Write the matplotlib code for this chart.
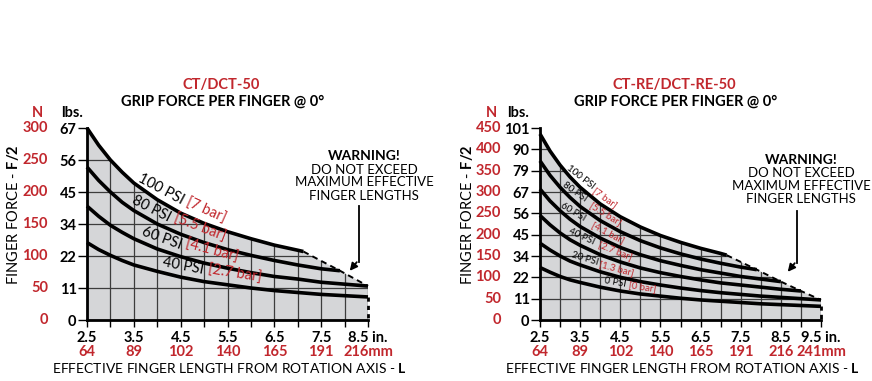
import numpy as np
import matplotlib
matplotlib.use('Agg')
import matplotlib.pyplot as plt
from matplotlib.patches import Polygon, FancyArrowPatch
from matplotlib.lines import Line2D

RED = '#c1272d'
FILL = '#d5d6d8'

plt.rcParams['font.family'] = ['Lato', 'DejaVu Sans']
plt.rcParams['mathtext.fontset'] = 'custom'
plt.rcParams['mathtext.rm'] = 'Lato'
plt.rcParams['mathtext.bf'] = 'Lato:bold'

# ---- left chart: CT/DCT-50 (force in N) ----
x100 = [2.5, 2.75, 3.0, 3.25, 3.5, 4.0, 4.5, 5.0, 5.5, 6.0, 6.5, 7.0, 7.12]
y100 = [300, 273, 250, 231, 214, 188, 167, 151, 138, 127, 117, 109, 107]
x80 = [2.5, 2.75, 3.0, 3.25, 3.5, 4.0, 4.5, 5.0, 5.5, 6.0, 6.5, 7.0, 7.5, 7.9]
y80 = [239, 218, 200, 184, 171, 150, 134, 121, 110, 101, 93, 86, 80, 77]
x60 = [2.5, 2.75, 3.0, 3.25, 3.5, 4.0, 4.5, 5.0, 5.5, 6.0, 6.5, 7.0, 7.5, 8.0, 8.5]
y60 = [178, 162, 148, 137, 127, 111, 99, 89, 81, 74, 68, 64, 59, 56, 53]
x40 = [2.5, 2.75, 3.0, 3.25, 3.5, 4.0, 4.5, 5.0, 5.5, 6.0, 6.5, 7.0, 7.5, 8.0, 8.5]
y40 = [121, 110, 101, 93, 86, 76, 67, 60, 55, 50, 46, 43, 40, 38, 36]

psi_left = ['100 PSI', '80 PSI', '60 PSI', '40 PSI']
bar_left = ['[7 bar]', '[5.5 bar]', '[4.1 bar]', '[2.7 bar]']
n_ticks_left = [0, 50, 100, 150, 200, 250, 300]
lbs_left = ['0', '11', '22', '34', '45', '56', '67']
in_left = ['2.5', '3.5', '4.5', '5.5', '6.5', '7.5', '8.5']
mm_left = ['64', '89', '102', '140', '165', '191', '216']

# ---- right chart: CT-RE/DCT-RE-50 ----
xr_a = [2.5, 2.75, 3.0, 3.25, 3.5, 4.0, 4.5, 5.0, 5.5, 6.0, 6.5, 7.0, 7.5, 8.0, 8.5, 9.0, 9.5]
x100r = [2.5, 2.75, 3.0, 3.25, 3.5, 4.0, 4.5, 5.0, 5.5, 6.0, 6.5, 7.0, 7.15]
y100r = [436, 396, 363, 335, 311, 272, 242, 218, 198, 182, 168, 156, 152]
x80r = [2.5, 2.75, 3.0, 3.25, 3.5, 4.0, 4.5, 5.0, 5.5, 6.0, 6.5, 7.0, 7.5, 7.9]
y80r = [373, 339, 311, 287, 266, 233, 207, 186, 169, 155, 143, 133, 124, 118]
x60r = xr_a[:15]
y60r = [307, 279, 256, 236, 219, 192, 170, 153, 139, 128, 118, 110, 102, 96, 90]
x40r = xr_a[:16]
y40r = [245, 223, 204, 188, 175, 153, 136, 122, 111, 102, 94, 87, 82, 77, 72, 68]
x20r = xr_a
y20r = [180, 164, 150, 138, 129, 113, 100, 90, 82, 75, 69, 64, 60, 56, 53, 50, 47]
x0r = xr_a
y0r = [123, 112, 102, 94, 88, 77, 68, 61, 56, 51, 47, 44, 41, 38, 36, 34, 32]

psi_right = ['100 PSI', '80 PSI', '60 PSI', '40 PSI', '20 PSI', '0 PSI']
bar_right = ['[7 bar]', '[5.5 bar]', '[4.1 bar]', '[2.7 bar]', '[1.3 bar]', '[0 bar]']
n_ticks_right = [0, 50, 100, 150, 200, 250, 300, 350, 400, 450]
lbs_right = ['0', '11', '22', '34', '45', '56', '67', '79', '90', '101']
in_right = ['2.5', '3.5', '4.5', '5.5', '6.5', '7.5', '8.5', '9.5']
mm_right = ['64', '89', '102', '140', '165', '191', '216', '241']

W, H = 872, 381


def fx(px):
    return px / W


def fy(py):
    return 1 - py / H


def draw_chart(ax, curves, xmax, ymax, n_ticks, lbs, in_lbls, mm_lbls,
               psi, bars, label_pos, label_size):
    xs_top, ys_top = curves[0]
    ends = [(c[0][-1], c[1][-1]) for c in curves]
    # limit line: end of top curve, then ends of shorter curves, up to xmax
    lim = [ends[0]]
    for e in ends[1:]:
        if e[0] > lim[-1][0] + 1e-6:
            lim.append(e)
    verts = list(zip(xs_top, ys_top)) + lim[1:] + [(xmax, 0), (2.5, 0)]
    poly = Polygon(verts, closed=True, facecolor=FILL, edgecolor='none', zorder=0.5)
    ax.add_patch(poly)

    ax.set_xlim(2.5, xmax)
    ax.set_ylim(0, ymax)
    ticks = list(np.arange(2.5, xmax + 0.01, 0.5))
    ax.set_xticks(ticks)
    lbl = []
    k = 0
    for t in ticks:
        if abs((t - 2.5) % 1.0) < 1e-6:
            lbl.append(in_lbls[k])
            k += 1
        else:
            lbl.append('')
    lbl[-1] = lbl[-1] + ' in.'
    ax.set_xticklabels(lbl, fontweight='bold', fontsize=10.5)
    ax.set_yticks(n_ticks)
    ax.set_yticklabels(lbs, fontweight='bold', fontsize=10.5)
    ax.tick_params(axis='x', length=5, width=1, pad=3)
    ax.tick_params(axis='y', length=6.5, width=1, pad=1)

    ax.grid(True, color='#3c3c3c', lw=0.9)
    for gl in ax.get_xgridlines() + ax.get_ygridlines():
        gl.set_clip_path(poly)

    for s in ['top', 'right']:
        ax.spines[s].set_visible(False)
    for s in ['left', 'bottom']:
        ax.spines[s].set_linewidth(2)
    ax.set_facecolor('none')

    for xs, ys in curves:
        ax.plot(xs, ys, color='black', lw=2.6, clip_on=False, zorder=3,
                solid_capstyle='butt')

    # dashed limit line through the curve ends
    ax.plot([p[0] for p in lim], [p[1] for p in lim], color='black', lw=1.4,
            ls=(0, (3, 2.2)), zorder=3, clip_on=False)
    low = min(c[1][-1] for c in curves)
    ax.plot([xmax, xmax], [low, 0], color='black', lw=2, ls=(0, (1.5, 1.5)),
            zorder=3, clip_on=False)

    for v in n_ticks:
        ax.annotate(str(v), xy=(0, v), xycoords=('axes fraction', 'data'),
                    xytext=(-39, 0), textcoords='offset pixels', ha='right',
                    va='center', color=RED, fontweight='bold', fontsize=10.5)
    mm_pos = [t for t in ticks if abs((t - 2.5) % 1.0) < 1e-6]
    for i, (p, m) in enumerate(zip(mm_pos, mm_lbls)):
        txt = m + 'mm' if i == len(mm_lbls) - 1 else m
        ax.annotate(txt, xy=(p, 0), xycoords=('data', 'axes fraction'),
                    xytext=(0, -32), textcoords='offset pixels', ha='center',
                    va='center', color=RED, fontweight='bold', fontsize=10.5)

    for (x1, y1, r1, x2, y2, r2), p, b in zip(label_pos, psi, bars):
        ax.text(x1, y1, p, rotation=r1, rotation_mode='anchor', ha='center',
                va='center', fontsize=label_size, zorder=4)
        ax.text(x2, y2, b, rotation=r2, rotation_mode='anchor', ha='center',
                va='center', fontsize=label_size, color=RED, zorder=4)


fig = plt.figure(figsize=(W / 100, H / 100), dpi=100)

axl = fig.add_axes([fx(87), fy(320), 281 / W, 192 / H])
draw_chart(axl, [(x100, y100), (x80, y80), (x60, y60), (x40, y40)], 8.5, 300,
           n_ticks_left, lbs_left, in_left, mm_left, psi_left, bar_left,
           [(4.08, 205, -28, 5.03, 170, -24),
            (3.88, 174, -27, 4.91, 143, -21),
            (4.09, 128, -20, 5.16, 107, -15),
            (4.56, 85, -11, 5.66, 72, -9)], 10.5)

axr = fig.add_axes([fx(540), fy(320), 281 / W, 192 / H])
draw_chart(axr, [(x100r, y100r), (x80r, y80r), (x60r, y60r), (x40r, y40r),
                 (x20r, y20r), (x0r, y0r)], 9.5, 450,
           n_ticks_right, lbs_right, in_right, mm_right, psi_right, bar_right,
           [(3.50, 335, -38, 4.12, 287, -36),
            (3.37, 301, -35, 4.12, 248, -32),
            (3.33, 253, -31, 4.20, 205, -28),
            (3.54, 196, -25, 4.37, 162, -22),
            (3.62, 145, -17, 4.41, 122, -15),
            (4.37, 89, -10, 5.05, 78, -9)], 7)

# titles, headers and axis labels
for cx, name in [(221, 'CT/DCT-50'), (674, 'CT-RE/DCT-RE-50')]:
    fig.text(fx(cx), fy(85), name, color=RED, fontweight='bold', fontsize=10.5,
             ha='center', va='center')
    fig.text(fx(cx + 2), fy(102), 'GRIP FORCE PER FINGER @ 0°', fontweight='bold',
             fontsize=10.5, ha='center', va='center')

for nx, lx in [(37.5, 72.5), (491, 518)]:
    fig.text(fx(nx), fy(113), 'N', color=RED, fontweight='bold', fontsize=10.5,
             ha='center', va='center')
    fig.text(fx(lx), fy(113), 'lbs.', fontweight='bold', fontsize=10.5,
             ha='center', va='center')

for yx in [13, 467]:
    fig.text(fx(yx), fy(215), 'FINGER FORCE - $\\mathbf{F/2}$', rotation=90,
             fontsize=10.5, ha='center', va='center')

for cx in [229, 682]:
    fig.text(fx(cx), fy(368), 'EFFECTIVE FINGER LENGTH FROM ROTATION AXIS - $\\mathbf{L}$',
             fontsize=10, ha='center', va='center')

# warnings with arrows
for cx, ty, lx, ly0, ly1, hx, hy in [(364, 156, 358.5, 206, 262, 348, 273),
                                      (801, 160, 796.5, 211, 263, 786, 274)]:
    fig.text(fx(cx), fy(ty), 'WARNING!', fontweight='bold', fontsize=10,
             ha='center', va='center')
    fig.text(fx(cx), fy(ty + 7.5), 'DO NOT EXCEED\nMAXIMUM EFFECTIVE\nFINGER LENGTHS',
             fontsize=9.5, ha='center', va='top', linespacing=1.1)
    fig.add_artist(Line2D([fx(lx), fx(lx)], [fy(ly0), fy(ly1)], color='black', lw=1.3))
    fig.add_artist(FancyArrowPatch(
        (fx(lx), fy(ly1 - 2)), (fx(hx), fy(hy)), transform=fig.transFigure,
        arrowstyle='-|>', mutation_scale=11, color='black', lw=1.3))

fig.savefig('out.png', dpi=100)
